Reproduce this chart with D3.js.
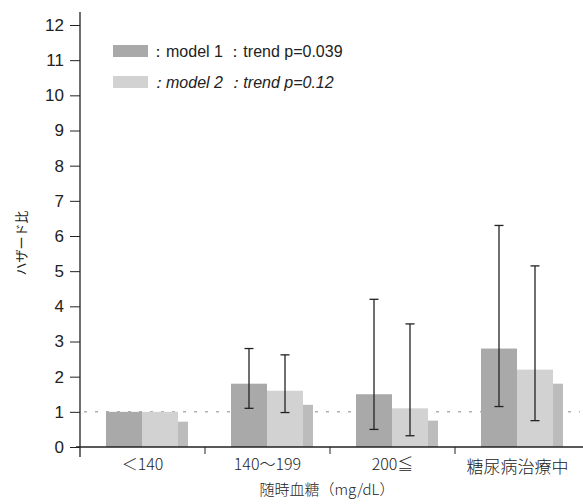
<!DOCTYPE html>
<html>
<head>
<meta charset="utf-8">
<script src="https://cdn.jsdelivr.net/npm/d3@7/dist/d3.min.js"></script>
<style>
  body { margin: 0; background: #fff; }
  text { font-family: "Liberation Sans", Arial, sans-serif; fill: #222; }
  .jp { font-family: "Noto Sans CJK JP", sans-serif; }
</style>
</head>
<body>
<div id="chart"></div>
<script>
// categories and values
const categories = ['＜140', '140～199', '200≦', '糖尿病治療中'];
const model1 = [1.0, 1.8, 1.5, 2.8];
const model1Lo = [null, 1.1, 0.5, 1.15];
const model1Hi = [null, 2.8, 4.2, 6.3];
const model2 = [1.0, 1.6, 1.1, 2.2];
const model2Lo = [null, 0.98, 0.32, 0.75];
const model2Hi = [null, 2.62, 3.5, 5.15];
const shade = [0.72, 1.2, 0.75, 1.8];   // narrow shaded strip to the right of each pair
const yTicks = d3.range(0, 13);
const legendLabels = ['：model 1 ：trend p=0.039', '：model 2 ：trend p=0.12'];

const width = 583, height = 504;
const svg = d3.select('#chart').append('svg')
  .attr('width', width)
  .attr('height', height);

const x = d3.scaleBand().domain(categories).range([80, 580]);
const sub = d3.scaleBand().domain(['m1', 'm2']).range([26, 98]);
const y = d3.scaleLinear().domain([0, 12]).range([447, 25]);

const colors = { m1: '#a9a9a9', m2: '#d2d2d2', shade: '#bcbcbc' };

// reference line at HR = 1
svg.append('line')
  .attr('x1', 84).attr('x2', 580)
  .attr('y1', y(1)).attr('y2', y(1))
  .style('stroke', '#888')
  .style('stroke-width', 1)
  .style('stroke-dasharray', '3,8');

// bars
const series = [
  { key: 'm1', values: model1, lo: model1Lo, hi: model1Hi },
  { key: 'm2', values: model2, lo: model2Lo, hi: model2Hi }
];

series.forEach(s => {
  svg.append('g').selectAll('rect')
    .data(categories)
    .enter()
    .append('rect')
    .attr('x', d => x(d) + sub(s.key))
    .attr('width', sub.bandwidth())
    .attr('y', (d, i) => y(s.values[i]))
    .attr('height', (d, i) => y(0) - y(s.values[i]))
    .style('fill', colors[s.key]);
});

svg.append('g').selectAll('rect')
  .data(categories)
  .enter()
  .append('rect')
  .attr('x', d => x(d) + sub.range()[1])
  .attr('width', 10)
  .attr('y', (d, i) => y(shade[i]))
  .attr('height', (d, i) => y(0) - y(shade[i]))
  .style('fill', colors.shade);

// error bars
series.forEach(s => {
  const g = svg.append('g');
  categories.forEach((c, i) => {
    if (s.hi[i] == null) return;
    const cx = x(c) + sub(s.key) + sub.bandwidth() / 2;
    g.append('line')
      .attr('x1', cx).attr('x2', cx)
      .attr('y1', y(s.lo[i])).attr('y2', y(s.hi[i]))
      .style('stroke', '#222').style('stroke-width', 1.3);
    [s.lo[i], s.hi[i]].forEach(v => {
      g.append('line')
        .attr('x1', cx - 4.5).attr('x2', cx + 4.5)
        .attr('y1', y(v)).attr('y2', y(v))
        .style('stroke', '#222').style('stroke-width', 1.3);
    });
  });
});

// y axis
const yAxis = d3.axisLeft(y).tickValues(yTicks).tickSize(10).tickPadding(6);
const yg = svg.append('g')
  .attr('transform', 'translate(80,0)')
  .call(yAxis);
yg.select('.domain').remove();
yg.selectAll('.tick line').style('stroke', '#222');
yg.selectAll('.tick text')
  .style('font-size', '17px')
  .style('font-family', '"Liberation Sans", Arial, sans-serif')
  .style('fill', '#222');
svg.append('line')
  .attr('x1', 80).attr('x2', 80)
  .attr('y1', 12).attr('y2', 457)
  .style('stroke', '#222').style('stroke-width', 1.3);

// x axis
svg.append('line')
  .attr('x1', 76).attr('x2', 583)
  .attr('y1', y(0)).attr('y2', y(0))
  .style('stroke', '#222').style('stroke-width', 1.5);
svg.append('g').selectAll('line')
  .data(categories.slice(1))
  .enter()
  .append('line')
  .attr('x1', d => x(d)).attr('x2', d => x(d))
  .attr('y1', y(0)).attr('y2', y(0) + 7)
  .style('stroke', '#222');

svg.append('g').selectAll('text')
  .data(categories)
  .enter()
  .append('text')
  .attr('class', 'jp')
  .attr('x', d => x(d) + x.bandwidth() / 2)
  .attr('y', (d, i) => 470 + (i === 3 ? 3 : 0))
  .attr('text-anchor', 'middle')
  .style('font-size', (d, i) => i === 3 ? '17px' : '16px')
  .style('font-weight', 300)
  .text(d => d);

// axis titles
svg.append('text')
  .attr('class', 'jp')
  .attr('x', 327).attr('y', 495)
  .attr('text-anchor', 'middle')
  .style('font-size', '15px')
  .style('font-weight', 300)
  .text('随時血糖（mg/dL）');

svg.append('text')
  .attr('class', 'jp')
  .attr('transform', 'translate(26,243) rotate(-90)')
  .attr('text-anchor', 'middle')
  .style('font-size', '13px')
  .text('ハザード比');

// legend
const legend = svg.append('g').attr('transform', 'translate(113,45)');
legendLabels.forEach((label, i) => {
  legend.append('rect')
    .attr('x', 0).attr('y', i * 31)
    .attr('width', 35).attr('height', 12)
    .style('fill', i === 0 ? colors.m1 : colors.m2);
  legend.append('text')
    .attr('x', 37).attr('y', i * 31 + 12)
    .style('font-size', '16px')
    .style('font-style', i === 1 ? 'italic' : 'normal')
    .text(label);
});
</script>
</body>
</html>
